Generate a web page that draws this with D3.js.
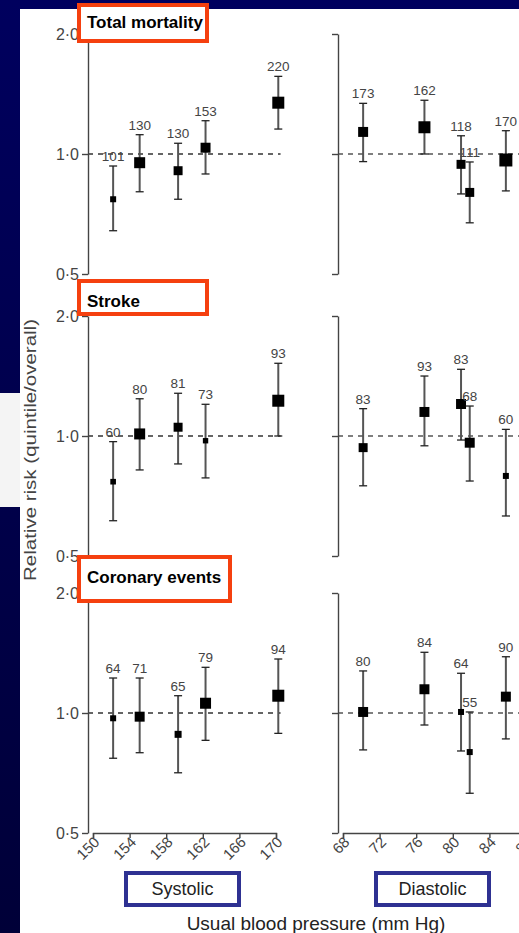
<!DOCTYPE html>
<html>
<head>
<meta charset="utf-8">
<script src="https://cdn.jsdelivr.net/npm/d3@7"></script>
<style>
  html, body { margin: 0; padding: 0; background: #fff; }
  svg { display: block; }
  text { font-family: "Liberation Sans", Arial, sans-serif; }
</style>
</head>
<body>
<svg id="chart" width="519" height="933"></svg>
<script>
// ---- Data -------------------------------------------------------------
// Mean usual blood pressure within each quintile (mm Hg)
const systolicMeans  = [152.2, 155.1, 159.3, 162.3, 170.25];
const diastolicMeans = [70.2, 76.9, 80.9, 81.85, 85.8];

const systolicTicks  = [150, 154, 158, 162, 166, 170];
const diastolicTicks = [68, 72, 76, 80, 84, 88];
const riskTicks      = [0.5, 1.0, 2.0];
const riskTickLabels = ["0·5", "1·0", "2·0"];

const outcomes = ["Total mortality", "Stroke", "Coronary events"];

// Total mortality
const totalSysEvents = [101, 130, 130, 153, 220];
const totalSysRR     = [0.770, 0.951, 0.908, 1.037, 1.345];
const totalSysLow    = [0.642, 0.804, 0.770, 0.891, 1.155];
const totalSysHigh   = [0.933, 1.118, 1.064, 1.212, 1.566];
const totalSysWeight = [0.25, 0.84, 0.56, 0.69, 1.0];

const totalDiaEvents = [173, 162, 118, 111, 170];
const totalDiaRR     = [1.136, 1.167, 0.942, 0.801, 0.966];
const totalDiaLow    = [0.957, 1.000, 0.794, 0.672, 0.808];
const totalDiaHigh   = [1.340, 1.364, 1.111, 0.955, 1.144];
const totalDiaWeight = [0.69, 1.0, 0.56, 0.56, 1.17];

// Stroke
const strokeSysEvents = [60, 80, 81, 73, 93];
const strokeSysRR     = [0.768, 1.012, 1.052, 0.973, 1.226];
const strokeSysLow    = [0.613, 0.822, 0.851, 0.785, 1.000];
const strokeSysHigh   = [0.968, 1.240, 1.280, 1.201, 1.522];
const strokeSysWeight = [0.22, 0.84, 0.56, 0.20, 1.0];

const strokeDiaEvents = [83, 93, 83, 68, 60];
const strokeDiaRR     = [0.935, 1.149, 1.203, 0.962, 0.794];
const strokeDiaLow    = [0.750, 0.945, 0.977, 0.771, 0.630];
const strokeDiaHigh   = [1.171, 1.414, 1.470, 1.189, 1.039];
const strokeDiaWeight = [0.56, 0.69, 0.69, 0.69, 0.25];

// Coronary events
const coronarySysEvents = [64, 71, 65, 79, 94];
const coronarySysRR     = [0.970, 0.979, 0.884, 1.058, 1.105];
const coronarySysLow    = [0.770, 0.795, 0.708, 0.854, 0.889];
const coronarySysHigh   = [1.224, 1.224, 1.105, 1.302, 1.366];
const coronarySysWeight = [0.25, 0.69, 0.34, 0.84, 1.0];

const coronaryDiaEvents = [80, 84, 64, 55, 90];
const coronaryDiaRR     = [1.006, 1.147, 1.006, 0.798, 1.099];
const coronaryDiaLow    = [0.808, 0.933, 0.803, 0.629, 0.861];
const coronaryDiaHigh   = [1.275, 1.420, 1.258, 1.006, 1.384];
const coronaryDiaWeight = [0.69, 0.69, 0.25, 0.25, 0.69];

// ---- Layout -----------------------------------------------------------
const W = 519, H = 933;
const svg = d3.select("#chart");

const panelTops = [34, 316, 593];
const panelH = 240;
const sysAxisX = 88, diaAxisX = 338;

const xSys = d3.scaleLinear().domain([150, 170]).range([93, 276]);
const xDia = d3.scaleLinear().domain([68, 88]).range([343, 526]);
const side = d3.scaleSqrt().domain([0, 1]).range([0, 12]);

const RED = "#f5400f", BLUE = "#2e3192";
const AXIS = "#444", BAR = "#555";

// Slide background: navy frame with a white plotting sheet
const grad = svg.append("defs").append("linearGradient")
  .attr("id", "frame").attr("x1", 0).attr("y1", 0).attr("x2", 0).attr("y2", 1);
grad.append("stop").attr("offset", "0%").attr("stop-color", "#00005e");
grad.append("stop").attr("offset", "100%").attr("stop-color", "#000038");
svg.append("rect").attr("width", W).attr("height", H).attr("fill", "url(#frame)");
svg.append("rect").attr("x", 20).attr("y", 9).attr("width", W - 20).attr("height", H - 9).attr("fill", "#fff");
svg.append("rect").attr("x", 0).attr("y", 393).attr("width", 20).attr("height", 114).attr("fill", "#f4f4f4");

const panels = [
  { sys: [totalSysEvents, totalSysRR, totalSysLow, totalSysHigh, totalSysWeight],
    dia: [totalDiaEvents, totalDiaRR, totalDiaLow, totalDiaHigh, totalDiaWeight] },
  { sys: [strokeSysEvents, strokeSysRR, strokeSysLow, strokeSysHigh, strokeSysWeight],
    dia: [strokeDiaEvents, strokeDiaRR, strokeDiaLow, strokeDiaHigh, strokeDiaWeight] },
  { sys: [coronarySysEvents, coronarySysRR, coronarySysLow, coronarySysHigh, coronarySysWeight],
    dia: [coronaryDiaEvents, coronaryDiaRR, coronaryDiaLow, coronaryDiaHigh, coronaryDiaWeight] }
];

function drawSeries(g, x, means, cols, y) {
  const [events, rr, lo, hi, wt] = cols;
  const rows = means.map((m, i) => ({ m, e: events[i], rr: rr[i], lo: lo[i], hi: hi[i], w: wt[i] }));
  const pt = g.selectAll(null).data(rows).enter().append("g");
  pt.append("line")
    .attr("x1", d => x(d.m)).attr("x2", d => x(d.m))
    .attr("y1", d => y(d.hi)).attr("y2", d => y(d.lo))
    .attr("stroke", BAR).attr("stroke-width", 2);
  ["hi", "lo"].forEach(k => {
    pt.append("line")
      .attr("x1", d => x(d.m) - 4).attr("x2", d => x(d.m) + 4)
      .attr("y1", d => y(d[k])).attr("y2", d => y(d[k]))
      .attr("stroke", "#222").attr("stroke-width", 1.3);
  });
  pt.append("rect")
    .attr("x", d => x(d.m) - side(d.w) / 2).attr("y", d => y(d.rr) - side(d.w) / 2)
    .attr("width", d => side(d.w)).attr("height", d => side(d.w))
    .attr("fill", "#000");
  pt.append("text")
    .attr("x", d => x(d.m)).attr("y", d => y(d.hi) - 5)
    .attr("text-anchor", "middle").attr("font-size", 13.5).attr("fill", "#444")
    .text(d => d.e);
}

panels.forEach((p, i) => {
  const top = panelTops[i];
  const y = d3.scaleLog().domain([0.5, 2]).range([top + panelH, top]);

  // reference line at relative risk 1
  const g = svg.append("g");
  g.append("line")
    .attr("x1", sysAxisX).attr("x2", xSys(170.5))
    .attr("y1", y(1)).attr("y2", y(1))
    .attr("stroke", "#333").attr("stroke-width", 1.3).attr("stroke-dasharray", "5,5");
  g.append("line")
    .attr("x1", diaAxisX).attr("x2", W)
    .attr("y1", y(1)).attr("y2", y(1))
    .attr("stroke", "#555").attr("stroke-width", 1.3).attr("stroke-dasharray", "5,5");

  // systolic y axis with labels
  const ySysAxis = svg.append("g").attr("transform", `translate(${sysAxisX},0)`)
    .call(d3.axisLeft(y).tickValues(riskTicks)
      .tickFormat((d, j) => riskTickLabels[j]).tickSize(6).tickSizeOuter(0).tickPadding(3));
  // diastolic y axis: bracket only
  const yDiaAxis = svg.append("g").attr("transform", `translate(${diaAxisX},0)`)
    .call(d3.axisLeft(y).tickValues(riskTicks).tickFormat("").tickSize(6).tickSizeOuter(0));
  [ySysAxis, yDiaAxis].forEach(a => {
    a.select(".domain").attr("stroke", AXIS).attr("stroke-width", 1.4);
    a.selectAll(".tick line").attr("stroke", AXIS).attr("stroke-width", 1.4);
  });
  ySysAxis.selectAll(".tick text").attr("font-size", 16).attr("fill", "#444")
    .attr("font-family", "'Liberation Sans', Arial, sans-serif");

  drawSeries(g, xSys, systolicMeans, p.sys, y);
  drawSeries(g, xDia, diastolicMeans, p.dia, y);
});

// Bottom x axes
const axisY = panelTops[2] + panelH;
const xa1 = svg.append("g").attr("transform", `translate(0,${axisY})`)
  .call(d3.axisBottom(xSys).tickValues(systolicTicks).tickSize(5).tickSizeOuter(5));
const xa2 = svg.append("g").attr("transform", `translate(0,${axisY})`)
  .call(d3.axisBottom(xDia).tickValues(diastolicTicks).tickSize(5).tickSizeOuter(5));
[xa1, xa2].forEach(a => {
  a.select(".domain").attr("stroke", AXIS).attr("stroke-width", 1.4);
  a.selectAll(".tick line").attr("stroke", AXIS).attr("stroke-width", 1.4);
  a.selectAll(".tick text")
    .attr("x", 0).attr("y", 0).attr("dy", 0)
    .attr("text-anchor", "end")
    .attr("transform", "translate(7,10) rotate(-45)")
    .attr("font-size", 15).attr("fill", "#444")
    .attr("font-family", "'Liberation Sans', Arial, sans-serif");
});

// Labels for the two blood-pressure measures
const measures = [["Systolic", 126, 873], ["Diastolic", 376, 873]];
measures.forEach(([label, bx, by]) => {
  svg.append("rect").attr("x", bx).attr("y", by).attr("width", 113).attr("height", 32)
    .attr("fill", "#fff").attr("stroke", BLUE).attr("stroke-width", 4);
  svg.append("text").attr("x", bx + 56.5).attr("y", by + 22)
    .attr("text-anchor", "middle").attr("font-size", 18).attr("fill", "#222").text(label);
});

svg.append("text").attr("x", 316).attr("y", 930).attr("text-anchor", "middle")
  .attr("font-size", 19).attr("fill", "#222").text("Usual blood pressure (mm Hg)");

svg.append("text").attr("transform", "translate(36,450) rotate(-90)")
  .attr("text-anchor", "middle").attr("font-size", 16.5).attr("fill", "#444")
  .attr("textLength", 262).attr("lengthAdjust", "spacingAndGlyphs")
  .text("Relative risk (quintile/overall)");

// Outcome title frames (white fill so they sit over the navy band)
const boxSpecs = [[79, 5, 128, 36], [79, 281, 128, 33], [79, 557, 151, 44]];
const titleBaselines = [28, 307, 583];
const frames = svg.append("g");
boxSpecs.forEach((b, i) => {
  frames.append("rect").attr("x", b[0]).attr("y", b[1]).attr("width", b[2]).attr("height", b[3])
    .attr("fill", "#fff").attr("stroke", RED).attr("stroke-width", 4);
  frames.append("text").attr("x", 87).attr("y", titleBaselines[i])
    .attr("font-size", 17).attr("font-weight", "bold").attr("fill", "#000")
    .text(outcomes[i]);
});
</script>
</body>
</html>
